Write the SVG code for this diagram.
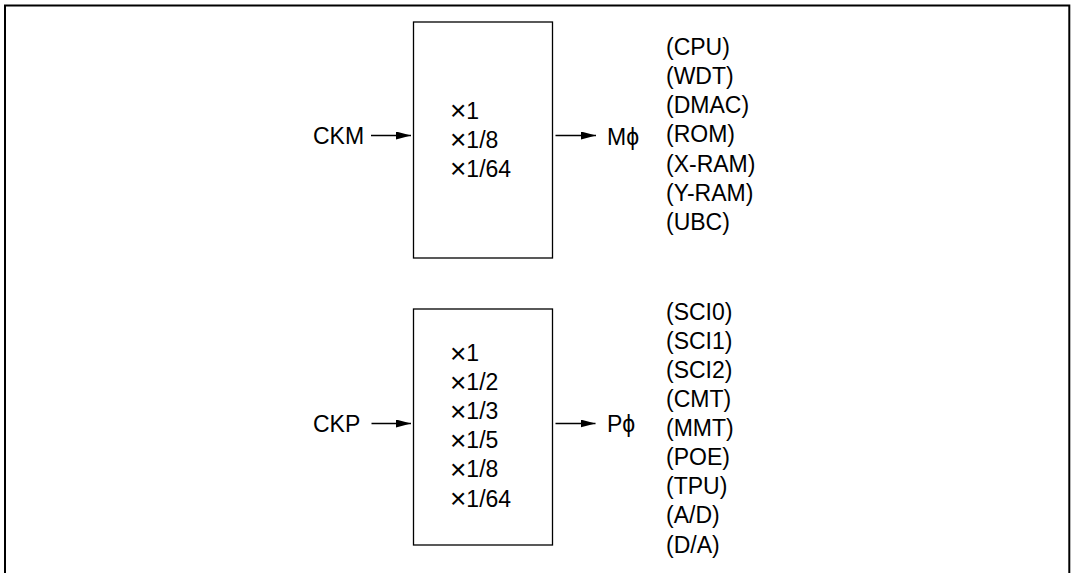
<svg xmlns="http://www.w3.org/2000/svg" width="1071" height="573" viewBox="0 0 1071 573">
<defs>
<marker id="ah" markerUnits="userSpaceOnUse" markerWidth="16" markerHeight="10" refX="15" refY="4" orient="auto">
<path d="M0,0 L15,4 L0,8 Z" fill="#000"/>
</marker>
<style>
text{font-family:"Liberation Sans",Arial,sans-serif;font-size:23px;fill:#000}
.x{font-size:28px}
.ph{font-family:"Liberation Sans","DejaVu Sans",sans-serif}
.box{fill:#fff;stroke:#000;stroke-width:1.3}
.conn{stroke:#000;stroke-width:1.3;fill:none}
.frame{fill:none;stroke:#000;stroke-width:2}
</style>
</defs>
<rect width="1071" height="573" fill="#fff"/>
<path class="frame" d="M5,574 L5,5.5 L1069.3,5.5 L1069.3,574"/>

<g id="divider-m">
<rect class="box" x="413.5" y="22" width="139" height="236"/>
<text x="450" y="118.5"><tspan class="x" dy="1.5">×</tspan><tspan dy="-1.5">1</tspan></text>
<text x="450" y="147.5"><tspan class="x" dy="1.5">×</tspan><tspan dy="-1.5">1/8</tspan></text>
<text x="450" y="176.5"><tspan class="x" dy="1.5">×</tspan><tspan dy="-1.5">1/64</tspan></text>
</g>
<g id="ckm"><text x="313" y="143.5">CKM</text></g>
<g id="mphi"><text x="607" y="144.5">M<tspan class="ph">ϕ</tspan></text></g>
<g id="m-modules">
<text x="666" y="55">(CPU)</text>
<text x="666" y="84">(WDT)</text>
<text x="666" y="113">(DMAC)</text>
<text x="666" y="142">(ROM)</text>
<text x="666" y="171.5">(X-RAM)</text>
<text x="666" y="200.5">(Y-RAM)</text>
<text x="666" y="230">(UBC)</text>
</g>

<g id="divider-p">
<rect class="box" x="413.5" y="309" width="139" height="236"/>
<text x="450" y="361"><tspan class="x" dy="1.5">×</tspan><tspan dy="-1.5">1</tspan></text>
<text x="450" y="390"><tspan class="x" dy="1.5">×</tspan><tspan dy="-1.5">1/2</tspan></text>
<text x="450" y="419"><tspan class="x" dy="1.5">×</tspan><tspan dy="-1.5">1/3</tspan></text>
<text x="450" y="448"><tspan class="x" dy="1.5">×</tspan><tspan dy="-1.5">1/5</tspan></text>
<text x="450" y="477"><tspan class="x" dy="1.5">×</tspan><tspan dy="-1.5">1/8</tspan></text>
<text x="450" y="506.5"><tspan class="x" dy="1.5">×</tspan><tspan dy="-1.5">1/64</tspan></text>
</g>
<g id="ckp"><text x="313" y="431.5">CKP</text></g>
<g id="pphi"><text x="607" y="431.5">P<tspan class="ph">ϕ</tspan></text></g>
<g id="p-modules">
<text x="666" y="320">(SCI0)</text>
<text x="666" y="349">(SCI1)</text>
<text x="666" y="378">(SCI2)</text>
<text x="666" y="407">(CMT)</text>
<text x="666" y="436">(MMT)</text>
<text x="666" y="465">(POE)</text>
<text x="666" y="494">(TPU)</text>
<text x="666" y="523">(A/D)</text>
<text x="666" y="552.5">(D/A)</text>
</g>

<g id="connectors">
<line class="conn" x1="371" y1="135.5" x2="411" y2="135.5" marker-end="url(#ah)"/>
<line class="conn" x1="555.5" y1="135.5" x2="596" y2="135.5" marker-end="url(#ah)"/>
<line class="conn" x1="371.5" y1="423.5" x2="411" y2="423.5" marker-end="url(#ah)"/>
<line class="conn" x1="555.5" y1="423.5" x2="595.5" y2="423.5" marker-end="url(#ah)"/>
</g>
</svg>
